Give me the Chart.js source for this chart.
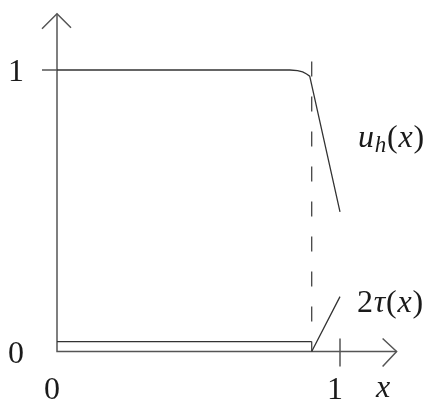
<!DOCTYPE html>
<html>
<head>
<meta charset="utf-8">
<script src="https://cdn.jsdelivr.net/npm/chart.js@4/dist/chart.umd.min.js"></script>
<style>
  html, body { margin: 0; padding: 0; background: #fff; }
  #wrap { width: 427px; height: 402px; }
</style>
</head>
<body>
<div id="wrap"><canvas id="c"></canvas></div>
<script>
// u_h(x): flat at 1, rounded corner, then a straight drop to x = 1
const uhX = [0, 0.823, 0.850, 0.868, 0.882, 0.893, 1.0];
const uhY = [1, 1, 0.998, 0.993, 0.986, 0.978, 0.496];

// 2τ(x): small constant, then a jump and a linear rise after the cut
const tauX = [0, 0.9, 0.9, 0.9, 1.0];
const tauY = [0.035, 0.035, null, 0, 0.195];

// dashed vertical cut
const cutX = [0.9, 0.9];
const cutY = [1.03, 0];

// axes extents and tick labels
const axisEnd = 1.2;
const xTickVals = [0, 1];
const xTickLabels = ['0', '1'];
const yTickVals = [0, 1];
const yTickLabels = ['0', '1'];

const pts = (xs, ys) => xs.map((x, i) => ({ x: x, y: ys[i] }));

const INK = '#1a1a1a';
const AXIS = '#555';
const SERIF = '"Liberation Serif"';

Chart.defaults.font.family = SERIF;

const drawPlot = {
  id: 'drawPlot',
  beforeDatasetsDraw(chart) {
    const ctx = chart.ctx;
    const xs = chart.scales.x, ys = chart.scales.y;
    const X = v => xs.getPixelForValue(v);
    const Y = v => ys.getPixelForValue(v);
    ctx.save();
    ctx.strokeStyle = AXIS;
    ctx.lineWidth = 1.5;
    ctx.lineCap = 'butt';
    // axes
    ctx.beginPath();
    ctx.moveTo(X(0), Y(axisEnd));
    ctx.lineTo(X(0), Y(0));
    ctx.lineTo(X(axisEnd), Y(0));
    ctx.stroke();
    // arrow heads
    ctx.beginPath();
    ctx.moveTo(X(0) - 15, Y(axisEnd) + 15);
    ctx.lineTo(X(0), Y(axisEnd));
    ctx.lineTo(X(0) + 14, Y(axisEnd) + 14);
    ctx.moveTo(X(axisEnd) - 14, Y(0) - 13);
    ctx.lineTo(X(axisEnd), Y(0));
    ctx.lineTo(X(axisEnd) - 14, Y(0) + 15);
    ctx.stroke();
    // ticks
    ctx.beginPath();
    ctx.moveTo(X(0) - 15, Y(1));
    ctx.lineTo(X(0), Y(1));
    ctx.moveTo(X(1), Y(0) - 13);
    ctx.lineTo(X(1), Y(0) + 15);
    ctx.stroke();
    ctx.restore();
  },
  afterDatasetsDraw(chart) {
    const ctx = chart.ctx;
    const xs = chart.scales.x, ys = chart.scales.y;
    const X = v => xs.getPixelForValue(v);
    const Y = v => ys.getPixelForValue(v);
    ctx.save();
    ctx.fillStyle = INK;
    ctx.textBaseline = 'alphabetic';
    // tick labels
    ctx.font = 'normal 32px ' + SERIF;
    ctx.textAlign = 'right';
    yTickVals.forEach((v, i) => ctx.fillText(yTickLabels[i], X(0) - 33, Y(v) + 11));
    ctx.textAlign = 'center';
    xTickVals.forEach((v, i) => ctx.fillText(xTickLabels[i], X(v) - 5, Y(0) + 47));
    ctx.font = 'italic 32px ' + SERIF;
    ctx.fillText('x', X(1) + 43, Y(0) + 45);

    // pieced math labels: [text, style, size, dy]
    const run = (parts, x0, y0) => {
      ctx.textAlign = 'left';
      let x = x0;
      parts.forEach(p => {
        ctx.font = p[1] + ' ' + p[2] + 'px ' + SERIF;
        ctx.fillText(p[0], x, y0 + p[3]);
        x += ctx.measureText(p[0]).width + 0.8;
      });
    };
    run([['u', 'italic', 32, 0], ['h', 'italic', 23, 5], ['(', 'normal', 32, 0],
         ['x', 'italic', 32, 0], [')', 'normal', 32, 0]], X(1) + 18, Y(0.725));
    run([['2', 'normal', 32, 0], ['τ', 'italic', 32, 0], ['(', 'normal', 32, 0],
         ['x', 'italic', 32, 0], [')', 'normal', 32, 0]], X(1) + 17, Y(0.14));
    ctx.restore();
  }
};

new Chart(document.getElementById('c'), {
  type: 'line',
  data: {
    datasets: [
      { data: pts(uhX, uhY), borderColor: '#333', borderWidth: 1.3, pointRadius: 0, tension: 0, fill: false },
      { data: pts(tauX, tauY), borderColor: '#333', borderWidth: 1.3, pointRadius: 0, tension: 0, fill: false, spanGaps: false },
      { data: pts(cutX, cutY), borderColor: '#444', borderWidth: 1.3, borderDash: [15, 20], pointRadius: 0, fill: false }
    ]
  },
  options: {
    responsive: true,
    maintainAspectRatio: false,
    animation: false,
    events: [],
    layout: { padding: { left: 0.4, right: 2.1, top: 2.44, bottom: 2.6 } },
    plugins: { legend: { display: false }, tooltip: { enabled: false } },
    scales: {
      x: { type: 'linear', min: -0.2, max: 1.3, display: false },
      y: { type: 'linear', min: -0.17, max: 1.24, display: false }
    }
  },
  plugins: [drawPlot]
});
</script>
</body>
</html>
